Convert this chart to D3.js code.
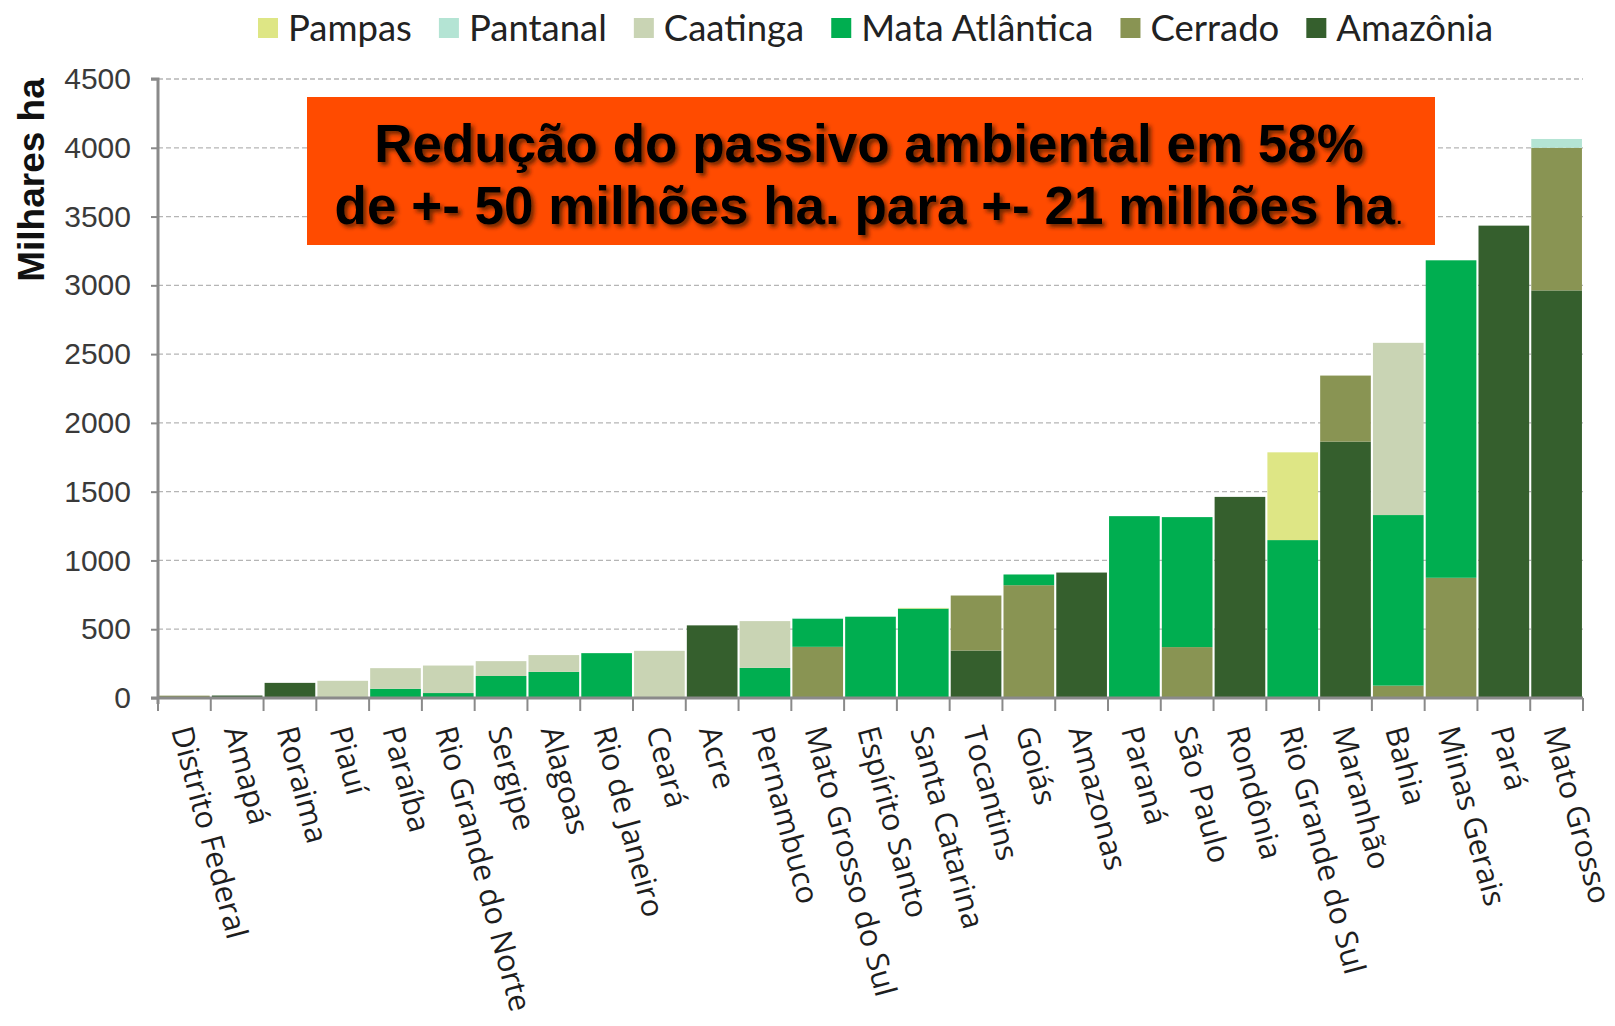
<!DOCTYPE html>
<html>
<head>
<meta charset="utf-8">
<script src="https://cdn.jsdelivr.net/npm/d3@7"></script>
<style>
  html, body { margin: 0; padding: 0; background: #fff; }
  svg { display: block; }
</style>
</head>
<body>
<div id="chart"></div>
<script>
// data (milhares ha)
const states = ["Distrito Federal", "Amapá", "Roraima", "Piauí", "Paraíba", "Rio Grande do Norte", "Sergipe",
  "Alagoas", "Rio de Janeiro", "Ceará", "Acre", "Pernambuco", "Mato Grosso do Sul", "Espírito Santo",
  "Santa Catarina", "Tocantins", "Goiás", "Amazonas", "Paraná", "São Paulo", "Rondônia", "Rio Grande do Sul",
  "Maranhão", "Bahia", "Minas Gerais", "Pará", "Mato Grosso"];

const amazonia = [0, 18, 110, 0, 0, 0, 0, 0, 0, 0, 528, 0, 0, 0, 0, 345, 0, 912, 0, 0, 1462, 0, 1864, 0, 0, 3434, 2963];
const cerrado  = [17, 0, 0, 0, 0, 0, 0, 0, 0, 0, 0, 0, 372, 0, 0, 400, 820, 0, 0, 370, 0, 0, 480, 90, 874, 0, 1037];
const mataAtlantica = [0, 0, 0, 0, 67, 36, 160, 190, 326, 0, 0, 219, 205, 591, 650, 0, 78, 0, 1322, 945, 0, 1148, 0, 1240, 2308, 0, 0];
const caatinga = [0, 0, 0, 125, 150, 200, 108, 122, 0, 343, 0, 340, 0, 0, 0, 0, 0, 0, 0, 0, 0, 0, 0, 1252, 0, 0, 0];
const pantanal = [0, 0, 0, 0, 0, 0, 0, 0, 0, 0, 0, 0, 5, 0, 0, 0, 0, 0, 0, 0, 0, 0, 0, 0, 0, 0, 64];
const pampas   = [0, 0, 0, 0, 0, 0, 0, 0, 0, 0, 0, 0, 0, 0, 5, 0, 0, 0, 0, 0, 0, 638, 0, 0, 0, 0, 0];

// stack order bottom -> top
const biomes = ["Amazônia", "Cerrado", "Mata Atlântica", "Caatinga", "Pantanal", "Pampas"];
const seriesValues = [amazonia, cerrado, mataAtlantica, caatinga, pantanal, pampas];
const legendOrder = ["Pampas", "Pantanal", "Caatinga", "Mata Atlântica", "Cerrado", "Amazônia"];
const yTicks = [0, 500, 1000, 1500, 2000, 2500, 3000, 3500, 4000, 4500];

const titleLine1 = "Redução do passivo ambiental em 58%";
const titleLine2 = "de +- 50 milhões ha. para +- 21 milhões ha";

const colorMap = {
  "Pampas": "#dee685",
  "Pantanal": "#b4e4d4",
  "Caatinga": "#c9d4b4",
  "Mata Atlântica": "#00ae50",
  "Cerrado": "#899453",
  "Amazônia": "#355f2d"
};

const width = 1615, height = 1026;
const plot = { left: 158, right: 1583, top: 79, bottom: 698 };

const svg = d3.select("#chart").append("svg")
  .attr("width", width)
  .attr("height", height);

const defs = svg.append("defs");
defs.append("filter").attr("id", "shadow")
  .attr("x", "-5%").attr("y", "-20%").attr("width", "110%").attr("height", "150%")
  .append("feDropShadow")
  .attr("dx", 3).attr("dy", 3).attr("stdDeviation", 2)
  .attr("flood-color", "#3a1a00").attr("flood-opacity", 0.75);

// scales
const x = d3.scaleBand().domain(states).range([plot.left, plot.right]).paddingInner(0.04).paddingOuter(0.02);
const y = d3.scaleLinear().domain([0, 4500]).range([plot.bottom, plot.top]);

// gridlines
svg.append("g")
  .selectAll("line")
  .data(yTicks.filter(d => d > 0))
  .enter().append("line")
  .attr("x1", plot.left).attr("x2", plot.right)
  .attr("y1", d => y(d)).attr("y2", d => y(d))
  .attr("stroke", "#b5b5b5")
  .attr("stroke-width", 1.3)
  .attr("stroke-dasharray", "5,3");

// stacked bars
const table = states.map((s, i) => {
  const row = { state: s };
  biomes.forEach((b, j) => { row[b] = seriesValues[j][i]; });
  return row;
});
const stack = d3.stack().keys(biomes)(table);

svg.append("g")
  .selectAll("g")
  .data(stack)
  .enter().append("g")
  .attr("fill", d => colorMap[d.key])
  .selectAll("rect")
  .data(d => d.filter(p => p[1] - p[0] > 0))
  .enter().append("rect")
  .attr("x", d => x(d.data.state))
  .attr("width", x.bandwidth())
  .attr("y", d => y(d[1]))
  .attr("height", d => y(d[0]) - y(d[1]));

// y axis
const yAxis = svg.append("g")
  .attr("transform", `translate(${plot.left},0)`)
  .call(d3.axisLeft(y).tickValues(yTicks).tickSize(7).tickPadding(20).tickFormat(d3.format("d")));
yAxis.select(".domain").attr("stroke", "#8a8a8a").attr("stroke-width", 3)
  .attr("d", `M-7,${plot.top}H0V${plot.bottom + 6}`);
yAxis.selectAll(".tick line").attr("stroke", "#8a8a8a").attr("stroke-width", 2);
yAxis.selectAll(".tick text")
  .style("font-family", "'Liberation Sans', Arial, sans-serif")
  .style("font-size", "30px")
  .style("fill", "#3a3a3a");

// x axis line + ticks at band boundaries
const xAxis = svg.append("g");
xAxis.append("line")
  .attr("x1", plot.left - 7).attr("x2", plot.right)
  .attr("y1", plot.bottom).attr("y2", plot.bottom)
  .attr("stroke", "#8a8a8a").attr("stroke-width", 3);
const bounds = states.map(s => x(s) - x.step() * x.paddingInner() / 2).concat([plot.right]);
xAxis.selectAll(".xt")
  .data(bounds)
  .enter().append("line")
  .attr("x1", d => d).attr("x2", d => d)
  .attr("y1", plot.bottom).attr("y2", plot.bottom + 13)
  .attr("stroke", "#8a8a8a").attr("stroke-width", 2);

xAxis.selectAll(".xl")
  .data(states)
  .enter().append("text")
  .attr("transform", d => `translate(${x(d) + x.bandwidth() / 2 - 3},${plot.bottom + 29}) rotate(75)`)
  .attr("dy", "0.35em")
  .attr("text-anchor", "start")
  .style("font-family", "'Open Sans', sans-serif")
  .style("font-size", "30.5px")
  .style("fill", "#1e1e1e")
  .text(d => d);

// y axis title
svg.append("text")
  .attr("transform", `translate(44,180) rotate(-90)`)
  .attr("text-anchor", "middle")
  .style("font-family", "'Liberation Sans', Arial, sans-serif")
  .style("font-weight", "bold")
  .style("font-size", "37px")
  .style("fill", "#111")
  .text("Milhares ha");

// legend
const legend = svg.append("g").attr("transform", "translate(258,28)");
let lx = 0;
legendOrder.forEach(key => {
  const item = legend.append("g").attr("transform", `translate(${lx},0)`);
  item.append("rect").attr("x", 0).attr("y", -10).attr("width", 20).attr("height", 20).attr("fill", colorMap[key]);
  const t = item.append("text")
    .attr("x", 30).attr("y", 0).attr("dy", "0.36em")
    .style("font-family", "Lato, sans-serif")
    .style("font-size", "36.5px")
    .style("fill", "#222")
    .text(key);
  lx += 30 + t.node().getComputedTextLength() + 27;
});

// title box
const box = svg.append("g");
box.append("rect")
  .attr("x", 307).attr("y", 97).attr("width", 1128).attr("height", 148)
  .attr("fill", "#ff4b00");
const tStyle = sel => sel
  .attr("text-anchor", "middle")
  .attr("filter", "url(#shadow)")
  .style("font-family", "'Liberation Sans', Arial, sans-serif")
  .style("font-weight", "bold")
  .style("font-size", "53px")
  .style("fill", "#000");
box.append("text").attr("x", 869).attr("y", 162).call(tStyle).text(titleLine1);
const line2 = box.append("text").attr("x", 869).attr("y", 224).call(tStyle);
line2.append("tspan").text(titleLine2);
line2.append("tspan").style("font-size", "30px").style("font-weight", "normal").text(".");
</script>
</body>
</html>
